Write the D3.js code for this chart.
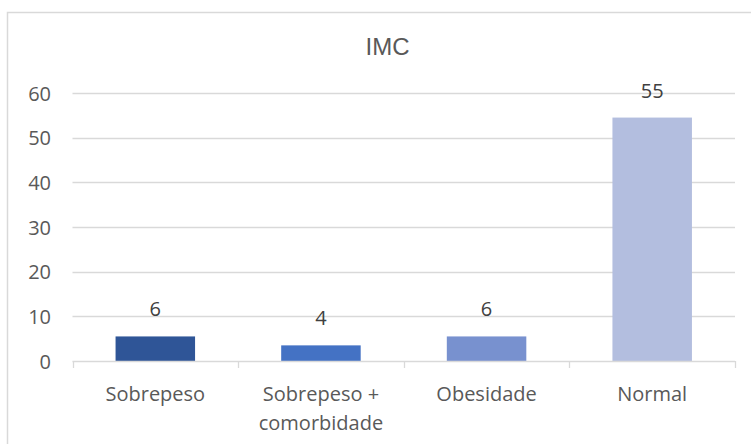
<!DOCTYPE html>
<html>
<head>
<meta charset="utf-8">
<script src="https://cdn.jsdelivr.net/npm/d3@7"></script>
<style>
  html, body { margin: 0; padding: 0; background: #fff; }
  svg { display: block; }
</style>
</head>
<body>
<svg id="chart" width="751" height="444"></svg>
<script>
const title = "IMC";
const categories = ["Sobrepeso", "Sobrepeso + comorbidade", "Obesidade", "Normal"];
const categoryLines = [["Sobrepeso"], ["Sobrepeso +", "comorbidade"], ["Obesidade"], ["Normal"]];
const values = [5.5, 3.5, 5.5, 54.5];
const colors = ["#2F5597", "#4472C4", "#7891CF", "#B3BEDF"];
const yTicks = [0, 10, 20, 30, 40, 50, 60];

const svg = d3.select("#chart");
const font = "'Open Sans', 'Noto Sans', sans-serif";

// chart border (extends beyond the visible crop on right/bottom)
svg.append("rect")
  .attr("x", 7.5).attr("y", 12.5)
  .attr("width", 780).attr("height", 460)
  .attr("fill", "#fff").attr("stroke", "#D9D9D9").attr("stroke-width", 1.5);

const plot = { left: 72.5, right: 735, top: 93, bottom: 361 };

const x = d3.scaleBand().domain(categories).range([plot.left, plot.right]).paddingInner(0.52).paddingOuter(0.26);
const y = d3.scaleLinear().domain([0, 60]).range([plot.bottom, plot.top]);

// title
svg.append("text")
  .attr("x", 387.5).attr("y", 55)
  .attr("text-anchor", "middle")
  .attr("font-family", "'Liberation Sans', Arial, sans-serif")
  .attr("font-size", 24)
  .attr("fill", "#595959")
  .text(title);

// gridlines
svg.append("g").selectAll("line")
  .data(yTicks.filter(d => d > 0))
  .join("line")
  .attr("x1", plot.left).attr("x2", plot.right)
  .attr("y1", d => Math.round(y(d)) + 0.5).attr("y2", d => Math.round(y(d)) + 0.5)
  .attr("stroke", "#D9D9D9").attr("stroke-width", 1.3);

// y axis labels
const yAxis = d3.axisLeft(y).tickValues(yTicks).tickSize(0).tickPadding(0);
const gy = svg.append("g").attr("transform", `translate(51,0)`).call(yAxis);
gy.select(".domain").remove();
gy.selectAll("text")
  .attr("font-family", font).attr("font-size", 20).attr("fill", "#595959")
  .attr("dy", "0.35em");

// bars
svg.append("g").selectAll("rect")
  .data(values)
  .join("rect")
  .attr("x", (d, i) => x(categories[i]))
  .attr("width", x.bandwidth())
  .attr("y", d => y(d))
  .attr("height", d => y(0) - y(d))
  .attr("fill", (d, i) => colors[i]);

// data labels
const fmt = d3.format(".0f");
svg.append("g").selectAll("text")
  .data(values)
  .join("text")
  .attr("x", (d, i) => x(categories[i]) + x.bandwidth() / 2)
  .attr("y", d => y(d) - 20)
  .attr("text-anchor", "middle")
  .attr("font-family", font).attr("font-size", 20).attr("fill", "#404040")
  .text(d => fmt(d));

// x axis line and category separators
svg.append("line")
  .attr("x1", plot.left).attr("x2", plot.right)
  .attr("y1", plot.bottom + 0.5).attr("y2", plot.bottom + 0.5)
  .attr("stroke", "#D9D9D9").attr("stroke-width", 1.3);
const bounds = d3.range(categories.length + 1).map(i => plot.left + i * (plot.right - plot.left) / categories.length);
svg.append("g").selectAll("line")
  .data(bounds)
  .join("line")
  .attr("x1", d => Math.round(d) + 0.5).attr("x2", d => Math.round(d) + 0.5)
  .attr("y1", plot.bottom).attr("y2", plot.bottom + 7)
  .attr("stroke", "#D9D9D9").attr("stroke-width", 1.3);

// category labels (wrapped)
const cl = svg.append("g");
categories.forEach((c, i) => {
  const cx = x(c) + x.bandwidth() / 2;
  const t = cl.append("text")
    .attr("x", cx)
    .attr("y", 401)
    .attr("text-anchor", "middle")
    .attr("font-family", font).attr("font-size", 20).attr("fill", "#595959");
  categoryLines[i].forEach((ln, j) => {
    t.append("tspan").attr("x", cx).attr("dy", j === 0 ? 0 : 29).text(ln);
  });
});
</script>
</body>
</html>
